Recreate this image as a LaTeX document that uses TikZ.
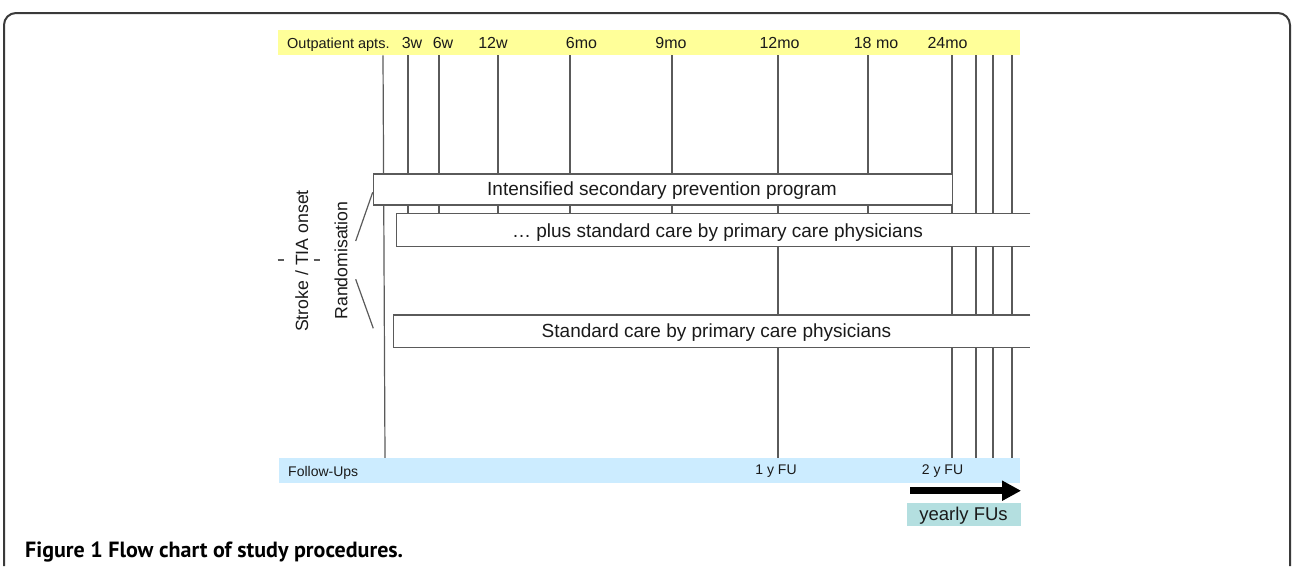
\documentclass[tikz,border=0pt]{standalone}
\usepackage{fontspec}
\setmainfont{Liberation Sans}
\newfontfamily\capfont{PT Sans}
\usetikzlibrary{arrows.meta,backgrounds}

\definecolor{aptyellow}{HTML}{FFFF99}
\definecolor{fublue}{HTML}{CCECFF}
\definecolor{yearteal}{HTML}{B4DFE0}
\definecolor{linegray}{HTML}{5A5A5A}
\definecolor{framegray}{HTML}{3A3A3A}
\definecolor{inkblack}{HTML}{1A1A1A}

\tikzset{
  timeline/.style={draw=linegray, line width=1.2pt},
  band/.style={anchor=north west, inner sep=0pt, minimum height=25pt},
  arm/.style={anchor=north west, inner sep=0pt, fill=white},
  armtext/.style={anchor=base, inner sep=0pt, text=inkblack, font=\fontsize{19}{22}\selectfont},
  aptlabel/.style={anchor=base, inner sep=0pt, text=inkblack, font=\fontsize{16}{18}\selectfont},
  fulabel/.style={anchor=base, inner sep=0pt, text=inkblack, font=\fontsize{14}{16}\selectfont},
  sidelabel/.style={rotate=90, inner sep=0pt, text=inkblack, font=\fontsize{17.7}{20}\selectfont},
}

\begin{document}
\begin{tikzpicture}[x=1pt,y=-1pt]
\useasboundingbox (0,0) rectangle (1292,566);

% frame round the figure
\draw[draw=framegray, line width=2pt, rounded corners=12pt]
  (4,566) -- (4,13) -- (1290,13) -- (1290,566);

% bands for visits and follow-ups
\node[band, fill=aptyellow, minimum width=742pt] (apts) at (278,30) {};
\node[band, fill=fublue, minimum width=741pt] (fu) at (279,458) {};

\node[fulabel, anchor=base west, font=\fontsize{14.5}{16}\selectfont] (aptname) at (287,48.5) {Outpatient apts.};
\node[aptlabel] (w3)  at (412,48.5) {3w};
\node[aptlabel] (w6)  at (443,48.5) {6w};
\node[aptlabel] (w12) at (493,48.5) {12w};
\node[aptlabel] (m6)  at (581.5,48.5) {6mo};
\node[aptlabel] (m9)  at (671,48.5) {9mo};
\node[aptlabel] (m12) at (779.5,48.5) {12mo};
\node[aptlabel] (m18) at (876,48.5) {18 mo};
\node[aptlabel] (m24) at (947.5,48.5) {24mo};

\node[fulabel, anchor=base west] (funame) at (288,476) {Follow-Ups};
\node[fulabel] (fu1) at (776,474.5) {1 y FU};
\node[fulabel] (fu2) at (942.5,474.5) {2 y FU};

% study arms
\node[arm, draw=linegray, line width=1.2pt, minimum width=579pt, minimum height=31pt] (intens) at (372.7,173.3) {};
\node[arm, minimum width=633.3pt, minimum height=32.4pt] (plus) at (396.7,213.3) {};
\node[arm, minimum width=636.7pt, minimum height=32.3pt] (std) at (393.3,315) {};
\draw[timeline] (plus.north east) -- (plus.north west) -- (plus.south west) -- (plus.south east);
\draw[timeline] (std.north east) -- (std.north west) -- (std.south west) -- (std.south east);

\node[armtext] (intenstext) at (662,195.7) {Intensified secondary prevention program};
\node[armtext] (plustext) at (717.5,237) {\dots\ plus standard care by primary care physicians};
\node[armtext] (stdtext) at (716.5,337) {Standard care by primary care physicians};

% visit lines, behind the arms
\begin{pgfonlayer}{background}
\foreach \x in {408,439,498,570,672,868}
  \draw[timeline] (apts.south -| \x,0) -- (plus.north -| \x,0);
\foreach \x in {778,952,976,993,1012}
  \draw[timeline] (apts.south -| \x,0) -- (fu.north -| \x,0);
\draw[timeline] (apts.south -| 383,0) -- (fu.north -| 385,0);
\end{pgfonlayer}

% onset and randomisation
\node[sidelabel] (onset) at (301.7,261) {Stroke / TIA onset};
\node[sidelabel] (rand) at (341,260.5) {Randomisation};
\draw[timeline] (277.5,260) -- (283.5,260);
\draw[timeline] (313.5,260) -- (319.5,260);

\coordinate (split1) at (355.7,241);
\coordinate (split2) at (355.7,279.3);
\draw[timeline] (split1) -- (intens.west |- 0,192.3);
\draw[timeline] (split2) -- (373.3,328.3);

% yearly follow-ups
\node[anchor=north west, inner sep=0pt, fill=yearteal, minimum width=114pt, minimum height=23.7pt] (yearly) at (906.7,502.3) {};
\node[anchor=base, inner sep=0pt, text=inkblack, font=\fontsize{18.5}{20}\selectfont] (yearlytext) at (963.5,520.7) {yearly FUs};
\draw[line width=7pt, -{Triangle[length=19pt,width=19pt]}]
  ([xshift=3.3pt,yshift=11.6pt]yearly.north west) -- ([yshift=11.6pt]yearly.north east);

% caption
\node[anchor=base west, inner sep=0pt, text=black, font=\capfont\fontsize{22}{25}\selectfont\bfseries] (caption) at (25,557) {Figure 1 Flow chart of study procedures.};
\end{tikzpicture}
\end{document}
